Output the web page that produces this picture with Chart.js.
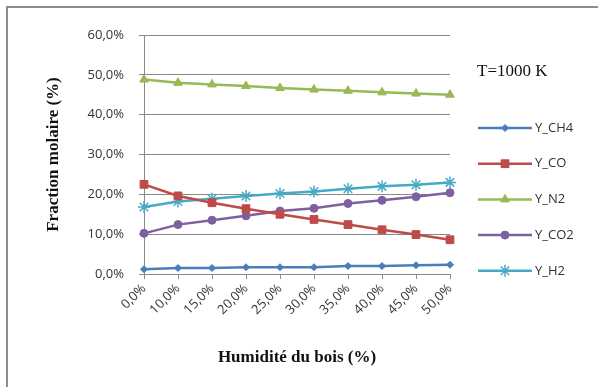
<!DOCTYPE html>
<html>
<head>
<meta charset="utf-8">
<script src="https://cdn.jsdelivr.net/npm/chart.js@4"></script>
<style>
    html, body { margin: 0; padding: 0; background: #fff; }
    #wrap { position: relative; width: 598px; height: 387px; }
    #frame {
        position: absolute; left: 6px; top: 6px; right: 0; bottom: 0;
        border-left: 2px solid #8c8c8c; border-top: 2px solid #8c8c8c;
    }
    canvas { position: absolute; left: 0; top: 0; }
</style>
</head>
<body>
<div id="wrap">
    <div id="frame"></div>
    <canvas id="gasChart" width="598" height="387"></canvas>
</div>
<script>
// Humidité du bois (categories)
const humidityLabels = ['0,0%', '10,0%', '15,0%', '20,0%', '25,0%', '30,0%', '35,0%', '40,0%', '45,0%', '50,0%']

// Fractions molaires (%)
const yCH4 = [1.2, 1.5, 1.5, 1.7, 1.7, 1.7, 2.0, 2.0, 2.2, 2.3]
const yCO  = [22.5, 19.6, 17.9, 16.4, 15.0, 13.7, 12.4, 11.1, 9.9, 8.6]
const yN2  = [48.8, 48.0, 47.6, 47.2, 46.7, 46.3, 46.0, 45.6, 45.3, 45.0]
const yCO2 = [10.2, 12.4, 13.5, 14.6, 15.8, 16.5, 17.7, 18.5, 19.4, 20.4]
const yH2  = [16.8, 18.2, 18.9, 19.6, 20.2, 20.7, 21.4, 22.0, 22.4, 23.0]

const seriesNames = ['Y_CH4', 'Y_CO', 'Y_N2', 'Y_CO2', 'Y_H2']
const yTicks = [0, 10, 20, 30, 40, 50, 60]
const annotationText = 'T=1000 K'

const tickFont = { family: 'Open Sans', size: 13 }
const titleFont = { family: 'Liberation Serif', size: 17, weight: 'bold' }
const textColor = '#333333'
const gridColor = '#8a8a8a'

function makeDataset(label, data, color, style, radius) {
    return {
        label: label,
        data: data,
        borderColor: color,
        backgroundColor: color,
        borderWidth: 2.5,
        pointStyle: style,
        pointRadius: radius,
        pointHoverRadius: radius,
        pointBorderWidth: style === 'star' ? 1.5 : 1,
        pointBorderColor: color,
        pointBackgroundColor: color,
        tension: 0,
        clip: false,
    }
}

// Draws the right-hand legend and the temperature note
const sideLegend = {
    id: 'sideLegend',
    afterDraw: function(chart) {
        const ctx = chart.ctx
        ctx.save()
        ctx.fillStyle = '#111'
        ctx.font = '17px "Liberation Serif"'
        ctx.textBaseline = 'middle'
        ctx.textAlign = 'left'
        ctx.fillText(annotationText, 477, 72)

        chart.data.datasets.forEach(function(ds, i) {
            const y = 128 + i * 35.7
            ctx.strokeStyle = ds.borderColor
            ctx.lineWidth = 2.5
            ctx.beginPath()
            ctx.moveTo(478, y)
            ctx.lineTo(532, y)
            ctx.stroke()
            ctx.fillStyle = ds.borderColor
            ctx.lineWidth = ds.pointBorderWidth
            Chart.helpers.drawPoint(ctx, {
                pointStyle: ds.pointStyle,
                radius: ds.pointRadius,
                borderWidth: ds.pointBorderWidth,
                rotation: 0,
            }, 505, y)
            ctx.fillStyle = textColor
            ctx.font = '13px "Open Sans"'
            ctx.fillText(ds.label, 535, y)
        })
        ctx.restore()
    }
}

const gasChart = new Chart(document.getElementById('gasChart'), {
    type: 'line',
    data: {
        labels: humidityLabels,
        datasets: [
            makeDataset(seriesNames[0], yCH4, '#4a7ebb', 'rectRot', 3.5),
            makeDataset(seriesNames[1], yCO, '#be4b48', 'rect', 5.5),
            makeDataset(seriesNames[2], yN2, '#98b954', 'triangle', 5),
            makeDataset(seriesNames[3], yCO2, '#7d60a0', 'circle', 4),
            makeDataset(seriesNames[4], yH2, '#46aac5', 'star', 6),
        ],
    },
    options: {
        responsive: false,
        animation: false,
        events: [],
        layout: { padding: { left: 34, top: 35, right: 148, bottom: 12 } },
        plugins: {
            legend: { display: false },
            tooltip: { enabled: false },
        },
        scales: {
            x: {
                offset: false,
                afterFit: function(scale) { scale.height = 101 },
                grid: { drawOnChartArea: false, drawTicks: true, tickLength: 5, color: gridColor },
                border: { display: true, color: gridColor, width: 1 },
                ticks: {
                    color: textColor, font: tickFont, padding: 2,
                    maxRotation: 45, minRotation: 45, autoSkip: false,
                },
                title: {
                    display: true,
                    text: 'Humidité du bois (%)',
                    color: '#111',
                    font: titleFont,
                    padding: { top: 0, bottom: 7 },
                },
            },
            y: {
                min: 0,
                max: 60,
                afterFit: function(scale) { scale.width = 110 },
                afterBuildTicks: function(scale) {
                    scale.ticks = yTicks.map(function(v) { return { value: v } })
                },
                grid: { color: gridColor, drawTicks: true, tickLength: 5, lineWidth: 1 },
                border: { display: true, color: gridColor, width: 1 },
                ticks: {
                    color: textColor, font: tickFont, padding: 15,
                    callback: function(v) { return v.toFixed(1).replace('.', ',') + '%' },
                },
                title: {
                    display: true,
                    text: 'Fraction molaire (%)',
                    color: '#111',
                    font: titleFont,
                    padding: { top: 9, bottom: 0 },
                },
            },
        },
    },
    plugins: [sideLegend],
})
</script>
</body>
</html>
